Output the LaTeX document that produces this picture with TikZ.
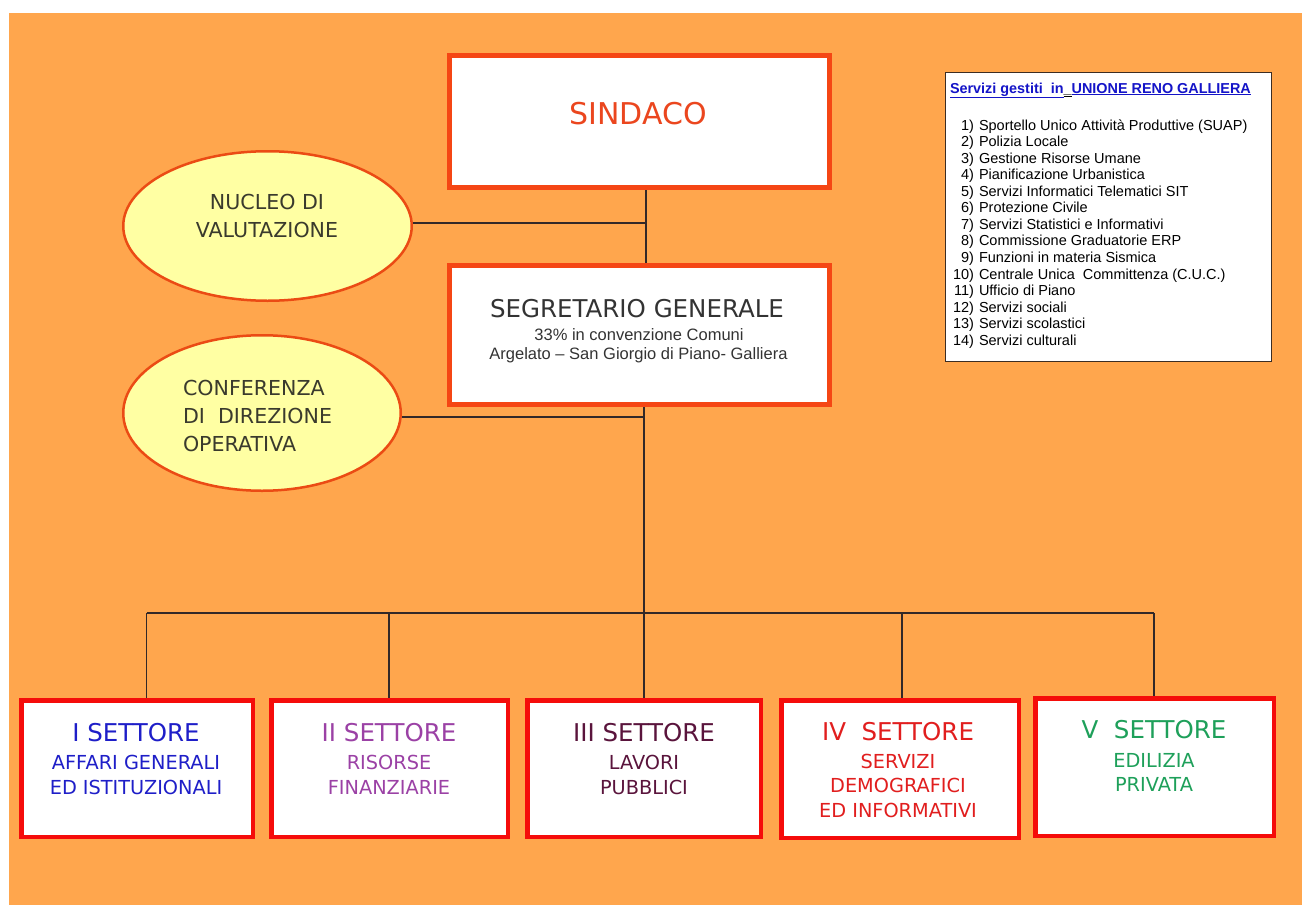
\documentclass[tikz,border=0pt]{standalone}
\usepackage{fontspec}
\usetikzlibrary{shapes.geometric}
\newfontfamily\vfont{DejaVu Sans}
\newfontfamily\afont{Liberation Sans}
\definecolor{bgorange}{RGB}{255,166,77}
\definecolor{boxred}{RGB}{245,12,10}
\definecolor{topred}{RGB}{245,70,20}
\definecolor{ellfill}{RGB}{255,255,163}
\definecolor{ellline}{RGB}{235,75,20}
\definecolor{linecol}{RGB}{50,40,40}
\definecolor{sindtxt}{RGB}{235,70,30}
\definecolor{graytxt}{RGB}{51,51,51}
\definecolor{ellgray}{RGB}{58,58,45}
\definecolor{cI}{RGB}{30,30,200}
\definecolor{cII}{RGB}{155,65,165}
\definecolor{cIII}{RGB}{90,20,60}
\definecolor{cIV}{RGB}{225,30,30}
\definecolor{cV}{RGB}{30,160,90}
\definecolor{listblue}{RGB}{20,20,200}
\definecolor{listframe}{RGB}{60,45,35}
\tikzset{
  topbox/.style={draw=topred,line width=5pt,fill=white,inner sep=0pt},
  setbox/.style={draw=boxred,line width=4.5pt,fill=white,inner sep=0pt},
  ell/.style={ellipse,draw=ellline,line width=2.5pt,fill=ellfill,inner sep=0pt},
  conn/.style={draw=linecol,line width=1.2pt},
  txt/.style={inner sep=0pt,outer sep=0pt},
  settitle/.style={txt,font=\vfont\fontsize{24.5}{29}\selectfont},
  setsub/.style={txt,align=center,font=\vfont\fontsize{19.3}{25}\selectfont},
  elltxt/.style={txt,text=ellgray,font=\vfont\fontsize{20.6}{28}\selectfont},
  listitem/.style={txt,font=\afont\fontsize{14.5}{16.5}\selectfont},
}
\begin{document}
\begin{tikzpicture}[x=1pt,y=-1pt]
\useasboundingbox (0,0) rectangle (1302,905);
\fill[white] (0,0) rectangle (1302,905);
\fill[bgorange] (9,13) rectangle (1302,905);

% junction coordinates
\coordinate (j1) at (646,223);
\coordinate (j2) at (644,417);
\coordinate (bus) at (644,613);
\coordinate (d1) at (146.5,613);
\coordinate (d2) at (389,613);
\coordinate (d3) at (644,613);
\coordinate (d4) at (902,613);
\coordinate (d5) at (1154,613);

% top boxes
\node[topbox,minimum width=380pt,minimum height=132pt] (sindaco) at (639.5,121.5) {};
\node[topbox,minimum width=380pt,minimum height=139pt] (segr) at (639.5,335) {};

% ellipses
\node[ell,minimum width=288.5pt,minimum height=149.5pt] (nucleo) at (267.5,226) {};
\node[ell,minimum width=277.5pt,minimum height=155.5pt] (conf) at (262,413) {};

% sector boxes
\node[setbox,minimum width=231.5pt,minimum height=136.5pt] (s1) at (137,768.5) {};
\node[setbox,minimum width=236.5pt,minimum height=136.5pt] (s2) at (389.5,768.5) {};
\node[setbox,minimum width=233.5pt,minimum height=136.5pt] (s3) at (644,768.5) {};
\node[setbox,minimum width=237.5pt,minimum height=137.5pt] (s4) at (900,769) {};
\node[setbox,minimum width=238.5pt,minimum height=137.5pt] (s5) at (1154.5,767) {};

% list box
\node[draw=listframe,line width=1.2pt,fill=white,minimum width=326pt,minimum height=289pt,inner sep=0pt] (lbox) at (1108.5,217) {};

% connectors
\draw[conn] (sindaco.south -| j1) -- (segr.north -| j1);
\draw[conn] (nucleo.east |- j1) -- (j1);
\draw[conn] (conf.east |- j2) -- (j2);
\draw[conn] (segr.south -| bus) -- (bus);
\draw[conn] (d1) -- (d5);
\draw[conn] (d1) -- (s1.north -| d1);
\draw[conn] (d2) -- (s2.north -| d2);
\draw[conn] (d3) -- (s3.north -| d3);
\draw[conn] (d4) -- (s4.north -| d4);
\draw[conn] (d5) -- (s5.north -| d5);

% texts top
\node[txt,text=sindtxt,font=\vfont\fontsize{30}{36}\selectfont] (tsind) at (638,114) {SINDACO};
\node[txt,text=graytxt,font=\vfont\fontsize{24.5}{29}\selectfont] (tsegr) at (637,309) {SEGRETARIO GENERALE};
\node[txt,text=graytxt,font=\afont\fontsize{16.5}{20}\selectfont,anchor=base] (tsegr2) at (639,340) {33\% in convenzione Comuni};
\node[txt,text=graytxt,font=\afont\fontsize{16.5}{20}\selectfont,anchor=base] (tsegr3) at (638.5,359) {Argelato – San Giorgio di Piano- Galliera};

% ellipse texts
\node[elltxt,align=center] (tnuc) at (267,216) {NUCLEO DI\\VALUTAZIONE};
\node[elltxt,align=left,anchor=west] (tconf) at (183,415.5) {CONFERENZA\\DI\ \ DIREZIONE\\OPERATIVA};

% sector texts
\node[settitle,text=cI] (t1) at (136,733) {I SETTORE};
\node[setsub,text=cI] (u1) at (136,774.5) {AFFARI GENERALI\\ED ISTITUZIONALI};
\node[settitle,text=cII] (t2) at (389,733) {II SETTORE};
\node[setsub,text=cII] (u2) at (389,774.5) {RISORSE\\FINANZIARIE};
\node[settitle,text=cIII] (t3) at (644,733) {III SETTORE};
\node[setsub,text=cIII] (u3) at (644,774.5) {LAVORI\\PUBBLICI};
\node[settitle,text=cIV] (t4) at (898,732) {IV\ \ SETTORE};
\node[setsub,text=cIV,font=\vfont\fontsize{19.3}{24.5}\selectfont] (u4) at (898,785.5) {SERVIZI\\DEMOGRAFICI\\ED INFORMATIVI};
\node[settitle,text=cV] (t5) at (1154,730) {V\ \ SETTORE};
\node[setsub,text=cV,font=\vfont\fontsize{19.3}{24}\selectfont] (u5) at (1154,772) {EDILIZIA\\PRIVATA};

% list title
\node[txt,anchor=base west,font=\afont\bfseries\fontsize{14.4}{17}\selectfont] (ltitle) at (950,93)
  {\textcolor{listblue}{\underline{Servizi gestiti\ \ in}}\underline{\_}\textcolor{listblue}{\underline{UNIONE RENO GALLIERA}}};

% list items
\foreach \n/\t [count=\i from 0] in {
  1/Sportello Unico Attività Produttive (SUAP),
  2/Polizia Locale,
  3/Gestione Risorse Umane,
  4/Pianificazione Urbanistica,
  5/Servizi Informatici Telematici SIT,
  6/Protezione Civile,
  7/Servizi Statistici e Informativi,
  8/Commissione Graduatorie ERP,
  9/Funzioni in materia Sismica,
  10/Centrale Unica\ \ Committenza (C.U.C.),
  11/Ufficio di Piano,
  12/Servizi sociali,
  13/Servizi scolastici,
  14/Servizi culturali}{
  \node[listitem,anchor=base east] (ln\n) at (974,130.2+16.54*\i) {\n)};
  \node[listitem,anchor=base west] (lt\n) at (979,130.2+16.54*\i) {\t};
}
\end{tikzpicture}
\end{document}
